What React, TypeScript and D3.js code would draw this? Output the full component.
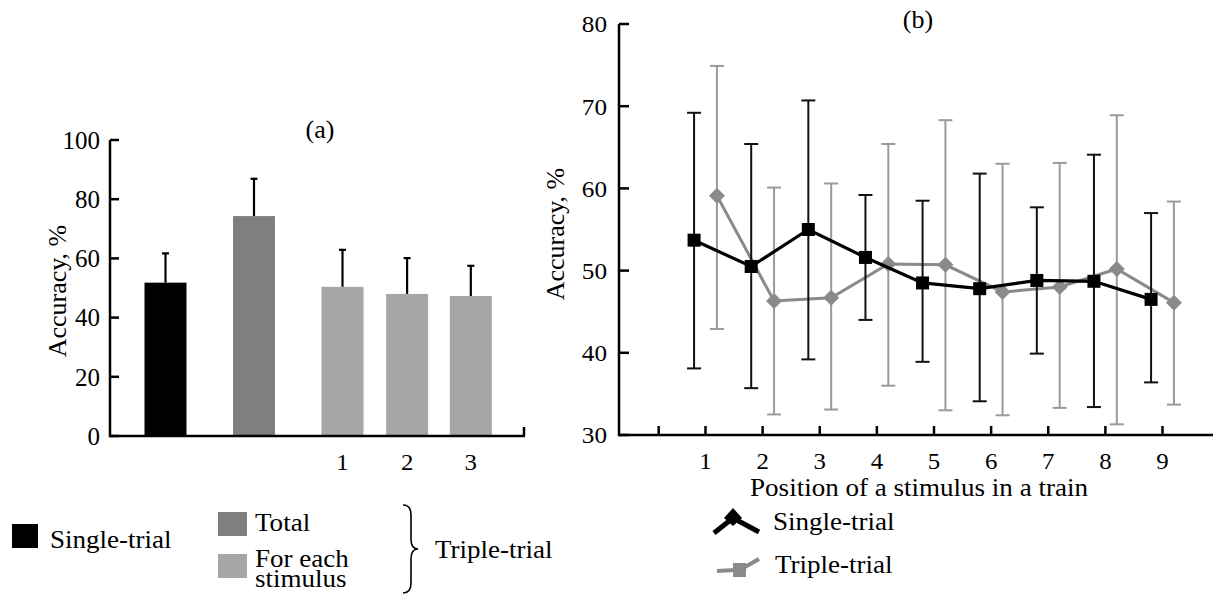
import React from "react";
import * as d3 from "d3";

// ---------- Panel (a) data ----------
const barCategories = ["Single-trial", "Total", "1", "2", "3"];
const barSlots = [0, 1, 2, 2.73, 3.45];
const barValues = [51.8, 74.3, 50.4, 48.0, 47.3];
const barErrTop = [61.7, 86.9, 62.9, 60.1, 57.5];
const barColors = ["#000000", "#7f7f7f", "#a6a6a6", "#a6a6a6", "#a6a6a6"];
const barTickLabels = ["", "", "1", "2", "3"];
const aYTicks = [0, 20, 40, 60, 80, 100];

// ---------- Panel (b) data ----------
const positions = [1, 2, 3, 4, 5, 6, 7, 8, 9];
const singleMean = [53.7, 50.5, 55.0, 51.6, 48.5, 47.8, 48.8, 48.7, 46.5];
const singleLow = [38.1, 35.7, 39.2, 44.0, 38.9, 34.1, 39.9, 33.4, 36.4];
const singleHigh = [69.2, 65.4, 70.7, 59.2, 58.5, 61.8, 57.7, 64.1, 57.0];
const tripleMean = [59.1, 46.3, 46.7, 50.8, 50.7, 47.4, 48.0, 50.2, 46.1];
const tripleLow = [42.9, 32.5, 33.1, 36.0, 33.0, 32.4, 33.3, 31.3, 33.7];
const tripleHigh = [74.9, 60.1, 60.6, 65.4, 68.3, 63.0, 63.1, 68.9, 58.4];
const bYTicks = [30, 40, 50, 60, 70, 80];
const bXTicks = [0.18, 1, 2, 3, 4, 5, 6, 7, 8, 9];

const FONT = '"Liberation Serif", "Times New Roman", serif';
const GRAY_LINE = "#8a8a8a";
const GRAY_ERR = "#9a9a9a";

type TProps = {
  x: number;
  y: number;
  size: number;
  sx?: number;
  anchor?: "start" | "middle" | "end";
  rotate?: number;
  dy?: string;
  children: React.ReactNode;
};

function T({ x, y, size, sx = 1, anchor = "start", rotate = 0, dy, children }: TProps) {
  return (
    <text
      transform={`translate(${x},${y}) rotate(${rotate}) scale(${sx},1)`}
      fontSize={size}
      textAnchor={anchor}
      dy={dy}
      fill="#000"
      style={{ fontFamily: FONT }}
    >
      {children}
    </text>
  );
}

export default function App() {
  // Panel (a) scales
  const ay = d3.scaleLinear().domain([0, 100]).range([436, 140]);
  const ax = d3.scaleLinear().domain([0, 1]).range([165.5, 254]);
  const barW = 42;

  // Panel (b) scales
  const by = d3.scaleLinear().domain([30, 80]).range([435, 24]);
  const bx = d3.scaleLinear().domain([1, 9]).range([705.5, 1162.5]);
  const off = 0.2;

  const lineGen = d3
    .line<[number, number]>()
    .x((d) => d[0])
    .y((d) => d[1]);

  const singlePts: [number, number][] = positions.map((p, i) => [bx(p - off), by(singleMean[i])]);
  const triplePts: [number, number][] = positions.map((p, i) => [bx(p + off), by(tripleMean[i])]);

  const cap = 7;
  const sq = 13;
  const dm = 8;

  return (
    <svg
      width={1215}
      height={595}
      style={{ position: "absolute", left: 0, top: 0, background: "#fff", fontFamily: FONT }}
    >
      <rect x={0} y={0} width={1215} height={595} fill="#fff" />

      {/* ================= Panel (a) ================= */}
      <T x={320} y={138} size={26} anchor="middle">(a)</T>
      {barCategories.map((c, i) => {
        const cx = ax(barSlots[i]);
        return (
          <g key={c}>
            <line x1={cx} x2={cx} y1={ay(barValues[i])} y2={ay(barErrTop[i])} stroke="#000" strokeWidth={2.2} />
            <line x1={cx - 3.5} x2={cx + 3.5} y1={ay(barErrTop[i])} y2={ay(barErrTop[i])} stroke="#000" strokeWidth={2.2} />
            <rect x={cx - barW / 2} y={ay(barValues[i])} width={barW} height={ay(0) - ay(barValues[i])} fill={barColors[i]} />
            {barTickLabels[i] && (
              <T x={cx} y={470} size={23} sx={1.08} anchor="middle">{barTickLabels[i]}</T>
            )}
          </g>
        );
      })}
      <line x1={110} x2={110} y1={ay(100)} y2={ay(0) + 1.2} stroke="#000" strokeWidth={2.5} />
      {aYTicks.map((t) => (
        <g key={t}>
          <line x1={110} x2={119} y1={ay(t)} y2={ay(t)} stroke="#000" strokeWidth={2.5} />
          <T x={100} y={ay(t)} size={25} anchor="end" dy="0.35em">{t}</T>
        </g>
      ))}
      <line x1={110} x2={525} y1={ay(0)} y2={ay(0)} stroke="#000" strokeWidth={2.5} />
      <line x1={524} x2={524} y1={ay(0)} y2={ay(0) - 9} stroke="#000" strokeWidth={2.5} />
      <T x={66} y={291} size={26} anchor="middle" rotate={-90}>Accuracy, %</T>

      {/* legend (a) */}
      <rect x={12} y={524} width={26} height={24} fill="#000" />
      <T x={50} y={548} size={26} sx={1.04}>Single-trial</T>
      <rect x={218} y={512} width={29} height={24} fill="#7f7f7f" />
      <T x={255} y={531} size={26} sx={1.04}>Total</T>
      <rect x={218} y={554} width={29} height={24} fill="#a6a6a6" />
      <T x={255} y={567} size={26} sx={1.04}>For each</T>
      <T x={255} y={587} size={26} sx={1.04}>stimulus</T>
      <path
        d="M403,505 Q411,505 411,515 L411,539 Q411,549 418,549 Q411,549 411,559 L411,583 Q411,593 403,593"
        fill="none"
        stroke="#000"
        strokeWidth={1.6}
      />
      <T x={435} y={558} size={26} sx={1.04}>Triple-trial</T>

      {/* ================= Panel (b) ================= */}
      <T x={918} y={28} size={26} anchor="middle">(b)</T>
      <line x1={619} x2={619} y1={by(80)} y2={by(30) + 1.2} stroke="#000" strokeWidth={2.5} />
      {bYTicks.map((t) => (
        <g key={t}>
          <T x={607} y={by(t)} size={24} sx={1.05} anchor="end" dy="0.35em">{t}</T>
          <line x1={619} x2={629} y1={by(t)} y2={by(t)} stroke="#000" strokeWidth={2.5} />
        </g>
      ))}
      <line x1={619} x2={1213} y1={by(30)} y2={by(30)} stroke="#000" strokeWidth={2.5} />
      {bXTicks.map((t) => (
        <g key={t}>
          <line x1={bx(t)} x2={bx(t)} y1={by(30)} y2={by(30) - 9} stroke="#000" strokeWidth={2.5} />
          {Number.isInteger(t) && t > 0 && (
            <T x={bx(t)} y={469} size={23} sx={1.08} anchor="middle">{t}</T>
          )}
        </g>
      ))}
      <T x={919} y={496} size={26} sx={1.04} anchor="middle">Position of a stimulus in a train</T>
      <T x={564} y={234} size={26} anchor="middle" rotate={-90}>Accuracy, %</T>

      {/* triple-trial series */}
      {positions.map((p, i) => {
        const x = bx(p + off);
        return (
          <g key={"te" + p} stroke={GRAY_ERR} strokeWidth={2}>
            <line x1={x} x2={x} y1={by(tripleLow[i])} y2={by(tripleHigh[i])} />
            <line x1={x - cap} x2={x + cap} y1={by(tripleLow[i])} y2={by(tripleLow[i])} />
            <line x1={x - cap} x2={x + cap} y1={by(tripleHigh[i])} y2={by(tripleHigh[i])} />
          </g>
        );
      })}
      <path d={lineGen(triplePts) || ""} fill="none" stroke={GRAY_LINE} strokeWidth={3} />
      {triplePts.map(([x, y], i) => (
        <path key={"td" + i} d={`M${x},${y - dm} L${x + dm},${y} L${x},${y + dm} L${x - dm},${y} Z`} fill={GRAY_LINE} />
      ))}

      {/* single-trial series */}
      {positions.map((p, i) => {
        const x = bx(p - off);
        return (
          <g key={"se" + p} stroke="#111" strokeWidth={2}>
            <line x1={x} x2={x} y1={by(singleLow[i])} y2={by(singleHigh[i])} />
            <line x1={x - cap} x2={x + cap} y1={by(singleLow[i])} y2={by(singleLow[i])} />
            <line x1={x - cap} x2={x + cap} y1={by(singleHigh[i])} y2={by(singleHigh[i])} />
          </g>
        );
      })}
      <path d={lineGen(singlePts) || ""} fill="none" stroke="#000" strokeWidth={3.2} />
      {singlePts.map(([x, y], i) => (
        <rect key={"sq" + i} x={x - sq / 2} y={y - sq / 2} width={sq} height={sq} fill="#000" />
      ))}

      {/* legend (b) */}
      <polyline points="714,533 733,518 759,532" fill="none" stroke="#000" strokeWidth={5} strokeLinejoin="round" />
      <path d="M733,508 L742,518 L733,526 L724,518 Z" fill="#000" />
      <T x={773} y={530} size={26} sx={1.04}>Single-trial</T>
      <line x1={717} x2={735} y1={571} y2={570} stroke={GRAY_LINE} strokeWidth={4} />
      <rect x={733} y={563} width={13} height={14} fill={GRAY_LINE} />
      <line x1={745} x2={759} y1={567} y2={559} stroke={GRAY_LINE} strokeWidth={4} />
      <T x={775} y={573} size={26} sx={1.04}>Triple-trial</T>
    </svg>
  );
}
